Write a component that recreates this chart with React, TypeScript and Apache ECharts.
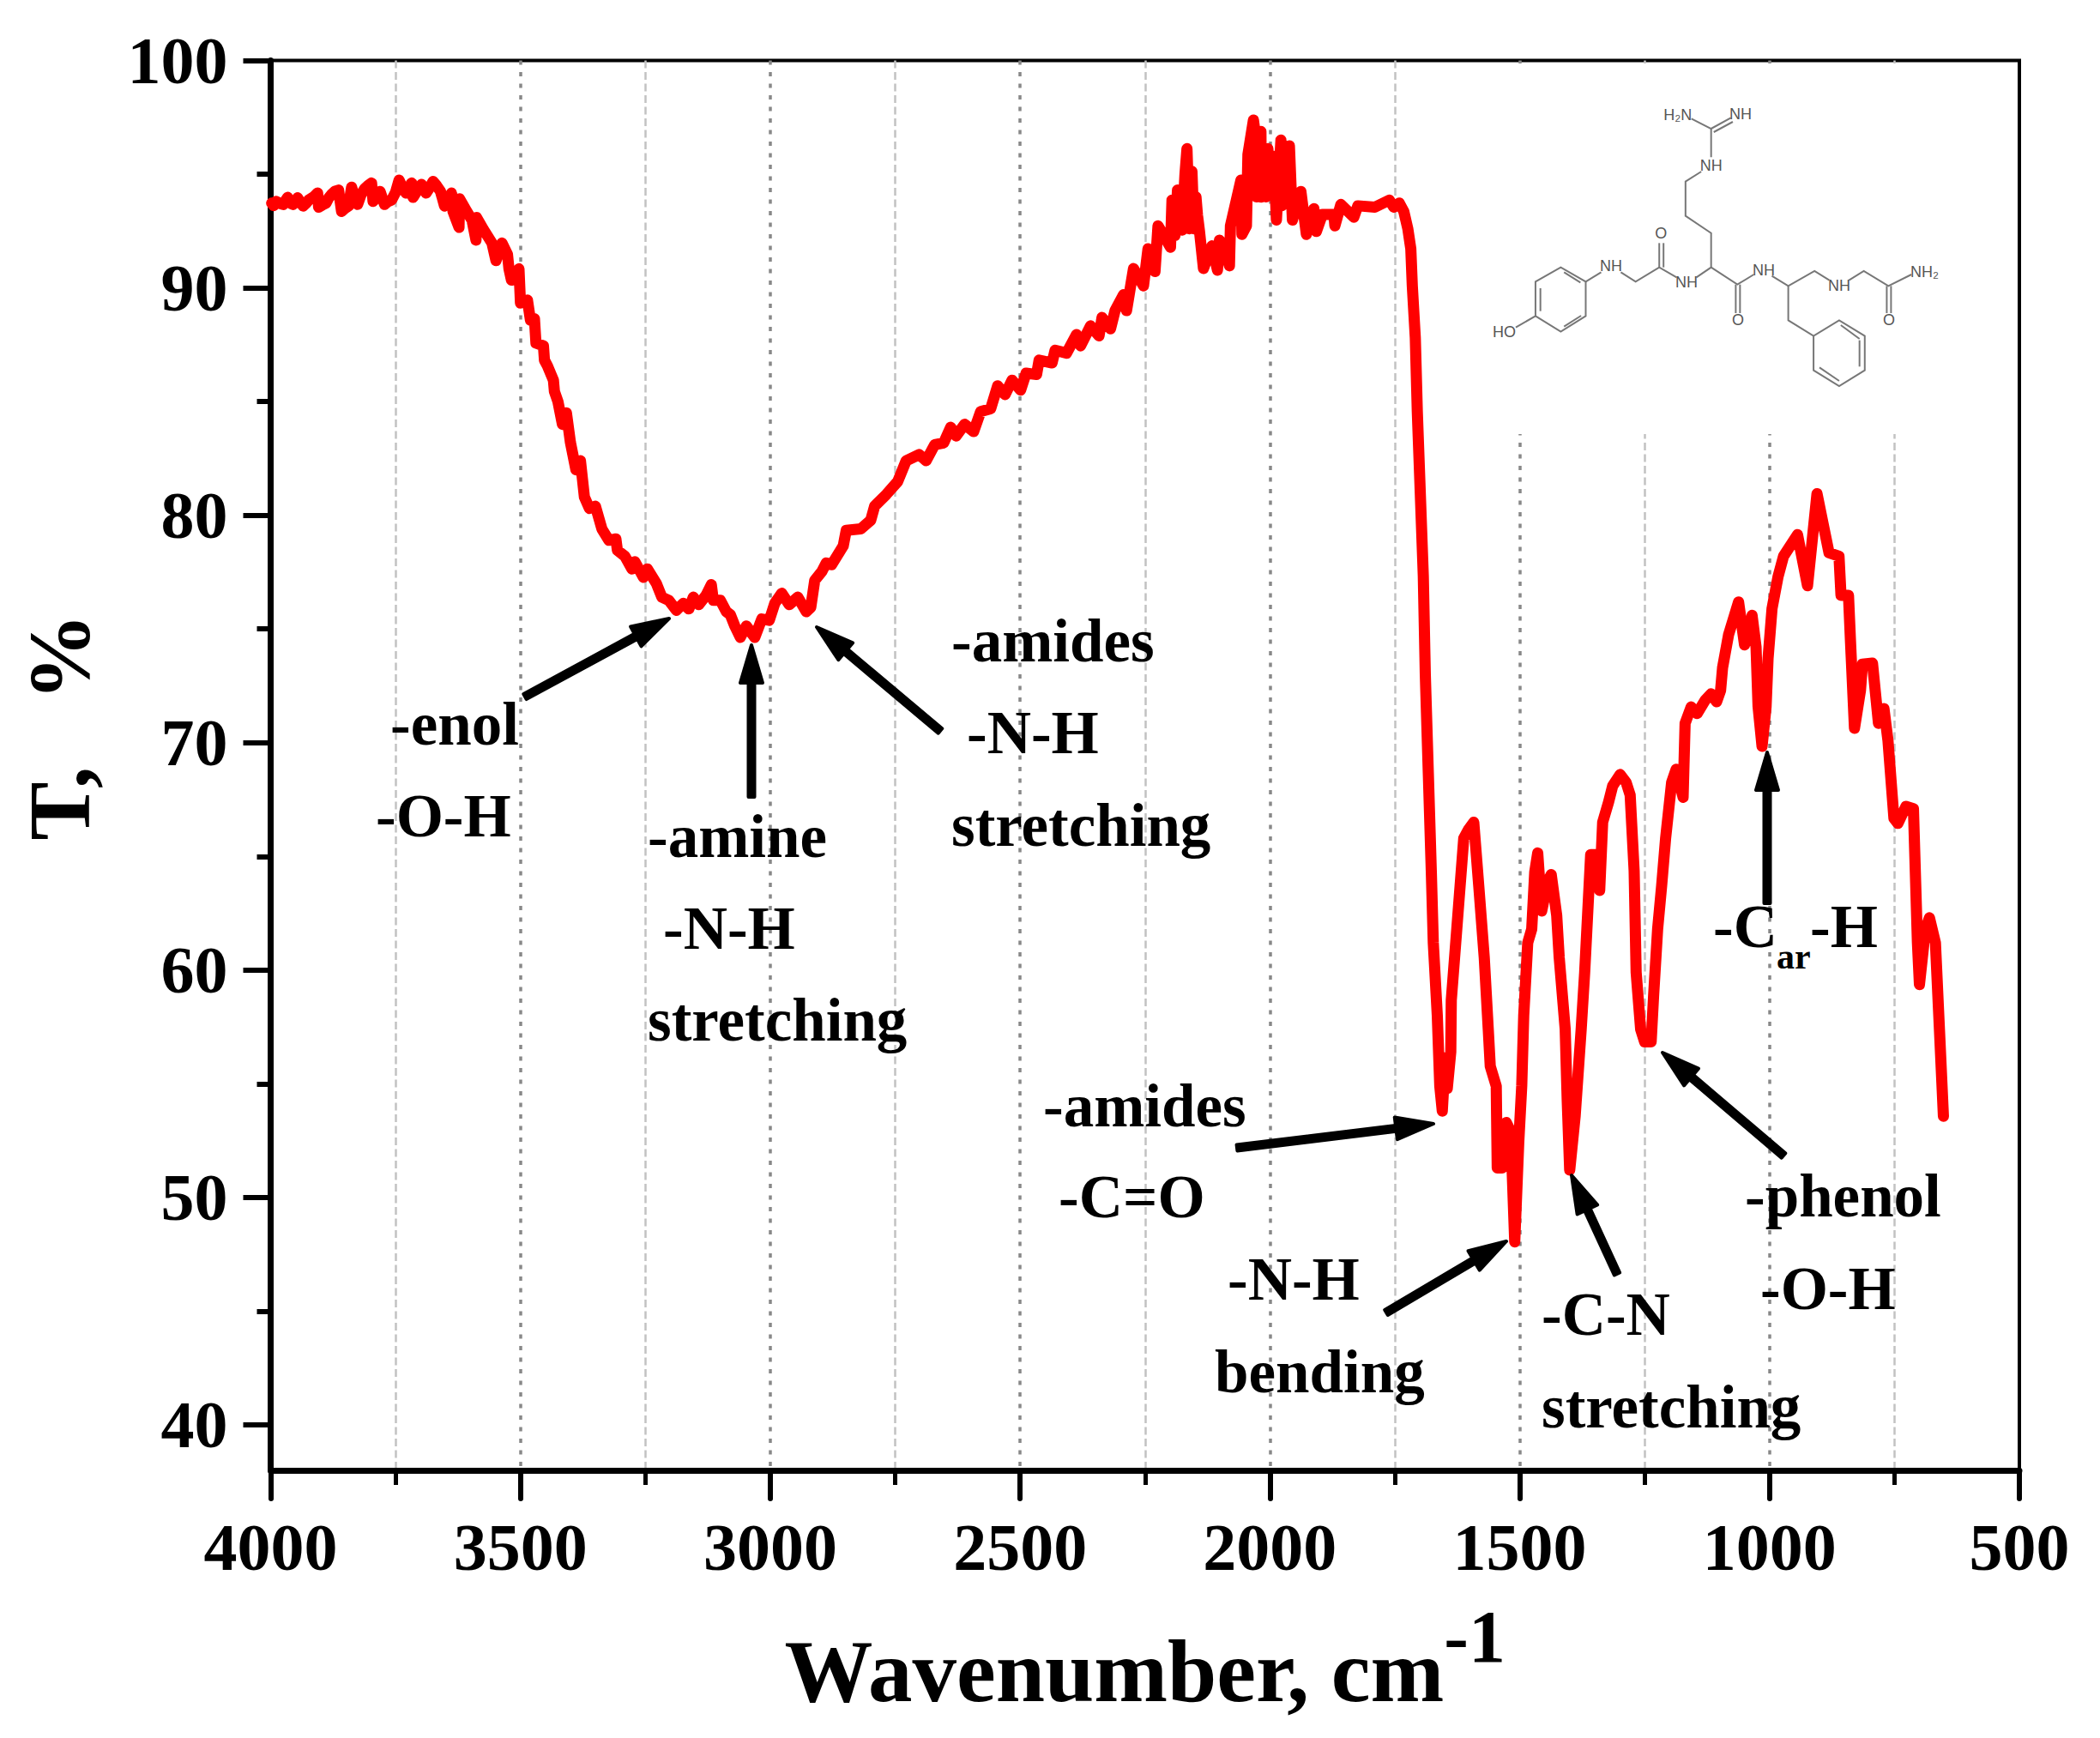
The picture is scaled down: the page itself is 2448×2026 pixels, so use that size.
import React, { useEffect, useRef } from "react";
import * as echarts from "echarts";

const wavenumbers = [
  3998,3994,3989,3982,3975,3970,3966,3960,3955,3950,3946,3940,3935,3930,3924,3914,3906,3904,3896,3889,3884,3878,3871,3864,3858,3851,3844,3838,3832,3826,3819,3812,3805,3798,3795,3788,3781,3772,3765,3758,3750,3743,3736,3729,3723,3718,3715,3706,3698,3689,3682,3675,3668,3660,
  3652,3638,3635,3623,3622,3609,3597,3589,3588,3575,3557,3549,3537,3526,3523,3518,3503,3500,3486,3480,3472,3469,3454,3452,3446,3434,3432,
  3425,3416,3408,3400,3389,3380,3372,3362,3350,3337,3323,3309,3306,3291,3277,3271,3254,3246,3228,3217,3203,3188,3174,3163,3154,3143,3128,3118,3114,3100,3088,3080,3071,3060,3048,3031,3017,3002,2991,2977,2962,2945,2928,2919,2911,2897,2888,2877,2854,2848,2819,2799,2791,2768,2745,
  2728,2702,2688,2671,2653,2639,2628,2611,2593,2579,2559,2545,2530,2516,2499,2488,2467,2462,2436,2430,2407,2387,2379,2359,2342,2336,2319,2310,2293,2287,2273,2253,2244,2230,2224,
  2199,2196,2190,2185,2176,2170,2166,2161,2156,2152,2148,2145,2141,2133,
  2116,2105,2101,2093,2081,2079,2058,2056,2047,2044,
  2033,2030,2027,2024,2018,2017,2012,2008,2004,2001,1996,1990,1987,1978,1976,1970,1966,1961,1955,
  1938,1927,1912,1907,1895,1872,1870,1858,1832,1824,1790,1761,1752,1741,1732,1724,1718,1715,1709,
  1705,1699,1693,1689,1683,1677,1673,1665,1660,1655,1649,1645,1638,1637,1626,1612,1602,1592,1582,1571,1563,1559,1547,1545,1535,1527,1518,1510,1502,1496,1492,1484,1476,1470,1464,1456,1444,1437,1426,1421,1409,1405,1400,1389,1377,1370,1358,1342,1340,1334,1322,1314,1299,1287,1279,1271,1267,1258,1250,1237,1232,1224,1216,1208,1196,1187,1173,1169,1157,1145,1129,1117,1106,1098,1094,1082,1062,1050,1035,1027,1023,1015,1007,1003,995,983,972,944,924,905,893,881,861,857,842,838,830,818,814,794,782,771,763,751,743,727,712,704,700,688,680,668,660,652,
];
const transmittance = [
  93.73,93.62,93.8,93.72,93.67,93.85,93.98,93.72,93.67,93.8,93.96,93.75,93.6,93.7,93.86,94.0,94.17,93.55,93.65,93.73,93.95,94.11,94.25,94.3,93.36,93.5,93.6,94.43,94.0,93.67,94.1,94.36,94.5,94.61,93.8,94.0,94.24,93.67,93.8,93.86,94.2,94.74,94.4,94.17,94.4,94.61,93.98,94.3,94.55,94.17,94.4,94.68,94.5,94.24,
  93.6,94.17,93.36,92.66,93.92,93.42,92.98,92.1,93.1,92.6,91.97,91.2,91.97,91.47,90.84,90.34,90.84,89.33,89.46,88.58,88.64,87.57,87.45,86.82,86.57,85.94,85.44,
  85.0,84.0,84.5,83.2,82.0,82.4,80.8,80.3,80.4,79.4,78.9,78.96,78.46,78.2,77.64,77.96,77.27,77.64,77,76.4,76.26,75.82,76.13,75.88,76.4,76.07,76.5,76.95,76.26,76.26,75.76,75.63,75.13,74.63,75.13,74.63,75.44,75.38,76.13,76.57,76.07,76.4,75.76,75.95,77.14,77.52,77.9,77.83,78.65,79.34,79.4,79.78,80.41,80.91,81.48,
  82.4,82.67,82.4,83.1,83.18,83.87,83.49,84,83.68,84.56,84.68,85.69,85.31,85.94,85.5,86.25,86.19,86.82,86.7,87.26,87.13,87.95,87.45,88.33,87.89,88.7,88.2,89,89.7,89,90.85,90.09,91.72,90.72,92.73,
  91.79,93.86,92.3,94.3,92.54,95,96.12,92.6,95.12,92.6,94,93.2,92.5,90.85,
  91.85,90.78,92.1,91.85,90.97,92.73,94.74,92.35,92.73,95.87,
  97.38,96.9,94,94.36,96.88,93.99,95.9,94,96.12,94.2,95.8,94.6,92.98,96.5,93.61,95.5,93.8,96.25,92.98,
  94.24,92.35,93.48,92.48,93.23,93.23,92.73,93.67,93.11,93.61,93.55,93.86,93.55,93.73,93.36,92.6,91.72,90.09,87.8,
  84.56,80.95,77.34,73,68.69,64.36,61.2,58,54.9,53.8,56.15,54.8,56.4,58.67,61.8,65.8,66.2,66.5,63.7,60.55,57.4,55.77,54.9,51.3,51.3,53.3,52.9,48.04,52.4,54.9,58,61.2,61.8,64.3,65.15,62.6,63.9,64.2,62.4,60.55,57.4,54.3,51.2,53.6,57.4,59.9,65.08,65.08,63.5,66.5,67.4,68.1,68.6,68.25,67.7,64.36,59.9,57.4,56.84,56.84,58.9,61.8,63.7,65.8,68.25,68.83,67.6,70.85,71.57,71.28,71.86,72.15,71.8,72.3,73.3,74.75,76.19,74.3,75.6,74.2,71.6,69.84,71.57,73.7,75.9,77.3,78.2,79.15,76.9,80.95,79.65,78.35,78.2,76.48,76.48,74.46,70.63,72.3,73.45,73.5,70.85,71.5,70.1,66.67,66.45,67.2,67.1,61.2,59.36,61.8,62.3,61.2,57.4,53.57,
];

const majorYTicks = [40, 50, 60, 70, 80, 90, 100];
const minorYTicks = [45, 55, 65, 75, 85, 95];
const xAxisMin = 500;
const xAxisMax = 4000;
const xInterval = 500;
const yAxisMin = 38;
const yAxisMax = 100;

const serif = '"Liberation Serif", "Times New Roman", serif';
const sans = '"Liberation Sans", Arial, sans-serif';

function label(text: string, x: number, baseline: number, size = 71) {
  return {
    type: "text", z: 20, x: x - 2, y: baseline + 2 - size * 0.3375,
    style: { text, fill: "#000", fontFamily: serif, fontWeight: "bold", fontSize: size, align: "left", verticalAlign: "middle" },
  };
}

function arrow(tx: number, ty: number, px: number, py: number) {
  const dx = px - tx, dy = py - ty, l = Math.hypot(dx, dy);
  const ux = dx / l, uy = dy / l, nx = -uy, ny = ux;
  const hl = 44, hw = 13, sw = 3.5;
  const bx = px - ux * hl, by = py - uy * hl;
  return {
    type: "polygon", z: 20,
    shape: { points: [
      [tx + nx * sw, ty + ny * sw], [bx + nx * sw, by + ny * sw], [bx + nx * hw, by + ny * hw], [px, py],
      [bx - nx * hw, by - ny * hw], [bx - nx * sw, by - ny * sw], [tx - nx * sw, ty - ny * sw],
    ] },
    style: { fill: "#000", stroke: "#000", lineWidth: 4, lineJoin: "round" },
  };
}

// molecule sketch, in a 2.613 x 3 enlarged frame anchored at (1700, 80)
const mx = (v: number) => 1700 + v / 2.613;
const my = (v: number) => 80 + v / 3;
const bonds: number[][][] = [
  [[175,905],[235,865],[235,745],[312,695],[388,745],[388,865],[312,920],[235,865]],
  [[250,768],[250,848]], [[322,712],[372,748]], [[322,902],[374,864]],
  [[388,745],[435,712]], [[495,712],[540,745],[612,695],[665,730]],
  [[612,695],[612,610]], [[625,695],[625,610]],
  [[725,730],[770,695],[770,575],[692,515],[692,395],[740,360]],
  [[770,310],[770,210],[710,175]], [[770,210],[830,172]], [[778,222],[836,186]],
  [[770,695],[850,755],[900,720]], [[845,755],[845,855]], [[858,755],[858,855]],
  [[955,725],[1005,760],[1085,708],[1130,740]], [[1190,740],[1235,708],[1310,760],[1380,720]],
  [[1305,760],[1305,855]], [[1318,760],[1318,855]],
  [[1005,760],[1005,880],[1082,935],[1160,880],[1238,935],[1238,1055],[1160,1110],[1082,1055],[1082,935]],
  [[1165,897],[1222,945]], [[1222,950],[1222,1042]], [[1100,1045],[1160,1092]],
];
const atoms: [string, number, number][] = [
  ["HO",140,920],["NH",465,690],["NH",695,748],["O",617,575],["NH",770,338],["H\u2082N",668,162],["NH",860,160],
  ["NH",930,705],["O",852,880],["NH",1160,760],["NH\u2082",1420,712],["O",1312,880],
];

export default function App() {
  const ref = useRef<HTMLDivElement>(null);
  useEffect(() => {
    const chart = echarts.init(ref.current!, null, { renderer: "svg" });
    const axisFont = { fontFamily: serif, fontWeight: "bold" as const, fontSize: 78, color: "#000" };
    const graphic: any[] = [
      { type: "rect", z: 10, shape: { x: 1700, y: 74, width: 645, height: 432 }, style: { fill: "#fff" } },
      { type: "line", z: 10, shape: { x1: 2354, y1: 70, x2: 2354, y2: 1714 }, style: { stroke: "#000", lineWidth: 4 } },
      ...bonds.map((b) => ({
        type: "polyline", z: 11,
        shape: { points: b.map(([x, y]) => [mx(x), my(y)]) },
        style: { stroke: "#777", lineWidth: 2, fill: "none" },
      })),
      ...atoms.map(([t, x, y]) => ({
        type: "text", z: 12, x: mx(x), y: my(y),
        style: { text: t, fill: "#555", fontFamily: sans, fontSize: 18, align: "center", verticalAlign: "middle" },
      })),
      arrow(612, 812, 780, 721), arrow(876, 929, 876, 752), arrow(1096, 852, 952, 731),
      arrow(1442, 1338, 1671, 1310), arrow(1616, 1530, 1756, 1447), arrow(1885, 1485, 1832, 1370),
      arrow(2079, 1347, 1938, 1227), arrow(2060, 1053, 2060, 877),
      label("-enol", 457, 866), label("-O-H", 440, 973),
      label("-amine", 757, 997), label("-N-H", 775, 1104), label("stretching", 757, 1211),
      label("-amides", 1111, 769), label("-N-H", 1129, 876), label("stretching", 1111, 984),
      label("-amides", 1218, 1311), label("-C=O", 1236, 1417),
      label("-N-H", 1433, 1513), label("bending", 1418, 1621),
      label("-C-N", 1799, 1554), label("stretching", 1799, 1662),
      label("-phenol", 2036, 1416), label("-O-H", 2054, 1524),
      label("-C", 1999, 1102), label("ar", 2073, 1127, 42), label("-H", 2112, 1102),
    ];
    chart.setOption({
      animation: false,
      backgroundColor: "#fff",
      grid: { left: 315.5, top: 70.5, width: 2038.5, height: 1643.5, show: true, borderColor: "#000", borderWidth: 4, containLabel: false, outerBoundsMode: "none" },
      xAxis: {
        type: "value", min: xAxisMin, max: xAxisMax, interval: xInterval, inverse: true,
        name: "{b|Wavenumber, cm}{s|-1}", nameLocation: "middle", nameGap: 151,
        nameTextStyle: { rich: {
          b: { fontFamily: serif, fontWeight: "bold", fontSize: 103, lineHeight: 134, verticalAlign: "bottom", color: "#000" },
          s: { fontFamily: serif, fontWeight: "bold", fontSize: 86, lineHeight: 86, verticalAlign: "top", color: "#000" },
        } },
        axisLine: { lineStyle: { color: "#000", width: 7 } },
        axisTick: { length: 33, lineStyle: { color: "#000", width: 6, cap: "round" } },
        minorTick: { show: true, splitNumber: 2, length: 17, lineStyle: { color: "#000", width: 5 } },
        axisLabel: { ...axisFont, margin: 50, showMinLabel: true, showMaxLabel: true, formatter: (v: number) => String(v) },
        splitLine: { show: true, lineStyle: { color: "#888", width: 3.5, type: [5, 8.5] } },
        minorSplitLine: { show: true, lineStyle: { color: "#c2c2c2", width: 2.5, type: [9, 4.5] } },
      },
      yAxis: [
        {
          type: "value", min: yAxisMin, max: yAxisMax, position: "left",
          name: "T,   %", nameLocation: "middle", nameGap: 195, nameRotate: 90,
          nameTextStyle: { fontFamily: serif, fontWeight: "bold", fontSize: 102, color: "#000", padding: [0, 0, 0, 90] },
          axisLine: { show: true, lineStyle: { color: "#000", width: 7 } },
          axisTick: { show: true, length: 32, customValues: majorYTicks, lineStyle: { color: "#000", width: 6 } },
          axisLabel: { ...axisFont, margin: 50, customValues: majorYTicks },
          splitLine: { show: false },
        },
        {
          type: "value", min: yAxisMin, max: yAxisMax, position: "left",
          axisLine: { show: false },
          axisTick: { show: true, length: 16, customValues: minorYTicks, lineStyle: { color: "#000", width: 6 } },
          axisLabel: { show: false },
          splitLine: { show: false },
        },
      ],
      series: [{
        type: "line", yAxisIndex: 0, showSymbol: false, smooth: false, clip: false, z: 5,
        data: wavenumbers.map((w, i) => [w, transmittance[i]]),
        lineStyle: { color: "#ff0000", width: 13, cap: "round", join: "round" },
      }],
      graphic,
    });
    return () => chart.dispose();
  }, []);
  return <div ref={ref} style={{ position: "absolute", left: 0, top: 0, width: 2448, height: 2026 }} />;
}
